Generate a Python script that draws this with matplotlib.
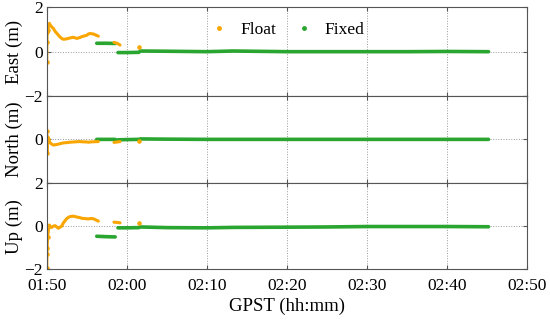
import numpy as np
import matplotlib
matplotlib.use("Agg")
import matplotlib.pyplot as plt
from matplotlib.lines import Line2D

# time in minutes after 01:50 GPST
tick_minutes = [0, 10, 20, 30, 40, 50, 60]
tick_labels = ["01:50", "02:00", "02:10", "02:20", "02:30", "02:40", "02:50"]

# Float solution (NaN separates the three pieces)
float_t = [0.0, 0.02, 0.05, 0.1, 0.2, 0.33, 0.41, 0.62, 0.83, 1.04, 1.45, 1.66, 1.87, 2.08,
           2.5, 2.7, 2.9, 3.33, 3.75, 4.16, 4.38, 5.0, 5.2, 5.41, 5.83, 6.45,
           np.nan, 8.4, 8.8, 9.16, np.nan, 11.55]
east_float = [-0.45, 0.45, 0.9, 1.0, 1.1, 1.28, 1.22, 1.12, 1.05, 0.92, 0.75, 0.66, 0.6, 0.56,
              0.58, 0.6, 0.62, 0.65, 0.6, 0.64, 0.68, 0.74, 0.8, 0.82, 0.8, 0.7,
              np.nan, 0.42, 0.38, 0.3, np.nan, 0.2]
north_float = [0.38, -0.65, 0.1, 0.0, -0.05, -0.1, -0.15, -0.22, -0.26, -0.25, -0.22, -0.2, -0.18, -0.16,
               -0.15, -0.14, -0.13, -0.12, -0.11, -0.1, -0.11, -0.12, -0.13, -0.12, -0.11, -0.1,
               np.nan, -0.14, -0.12, -0.1, np.nan, -0.07]
up_float = [-1.95, -1.3, -1.0, -0.5, -0.23, 0.05, -0.02, -0.06, 0.0, 0.02, -0.1, -0.05, 0.0, 0.15,
            0.35, 0.4, 0.44, 0.46, 0.42, 0.39, 0.36, 0.34, 0.33, 0.35, 0.34, 0.23,
            np.nan, 0.18, 0.17, 0.15, np.nan, 0.16]

# Fixed solution
fixed_t = [6.25, 7.5, 8.55, np.nan, 8.9, 10.0, 11.5, 11.7, 15.0, 20.0, 23.3, 30.0, 35.0,
           40.0, 45.0, 50.0, 55.2]
east_fixed = [0.38, 0.38, 0.37, np.nan, -0.04, -0.04, -0.03, 0.03, 0.02, 0.0, 0.03, 0.0, 0.0,
              0.0, 0.0, 0.01, 0.0]
north_fixed = [0.0, 0.0, 0.0, np.nan, -0.02, -0.01, 0.0, 0.02, 0.01, 0.0, 0.0, 0.0, 0.0,
               0.0, 0.0, 0.0, 0.0]
up_fixed = [-0.47, -0.49, -0.5, np.nan, -0.08, -0.08, -0.07, -0.04, -0.07, -0.08, -0.06, -0.05, -0.04,
            -0.02, -0.02, -0.02, -0.03]

float_color = "#F9A602"
fixed_color = "#2AA530"

plt.rcParams["font.family"] = ["Liberation Serif", "DejaVu Serif"]
plt.rcParams["font.size"] = 12.5

fig = plt.figure(figsize=(5.5, 3.23), dpi=100)
left, width = 0.085, 0.873
bounds = [(0.703, 0.274), (0.434, 0.269), (0.166, 0.268)]
names = ["East (m)", "North (m)", "Up (m)"]
floats = [east_float, north_float, up_float]
fixeds = [east_fixed, north_fixed, up_fixed]
ylabels = [["\u22122", "0", "2"], ["", "0", ""], ["\u22122", "0", "2"]]

axes = []
for i, (b, h) in enumerate(bounds):
    ax = fig.add_axes([left, b, width, h])
    axes.append(ax)
    ax.plot(fixed_t, fixeds[i], color=fixed_color, lw=2.6, solid_capstyle="round")
    ax.plot(float_t, floats[i], color=float_color, lw=2.2, solid_capstyle="round",
            marker=".", ms=4.5, markevery=[0, 1, 2, 3, 31])
    ax.set_xlim(0, 60)
    ax.set_ylim(-2, 2)
    ax.set_xticks(tick_minutes)
    ax.set_yticks([-2, 0, 2])
    ax.set_yticklabels(ylabels[i])
    ax.grid(True, ls=":", color="#999999", lw=0.7)
    ax.tick_params(direction="in", top=True, right=True, length=3, color="#555555",
                   labelsize=12.5, pad=3)
    for s in ax.spines.values():
        s.set_color("#555555")
        s.set_linewidth(0.8)
    ax.set_ylabel(names[i], fontsize=13.5)
    if i < 2:
        ax.set_xticklabels([])
    else:
        ax.tick_params(axis="x", pad=6)
        ax.set_xticklabels(tick_labels)
        ax.set_xlabel("GPST (hh:mm)", fontsize=13.5, labelpad=3)

for ax in axes:
    ax.yaxis.set_label_coords(-0.05, 0.5)

handles = [Line2D([], [], ls="none", marker=".", ms=5, color=float_color),
           Line2D([], [], ls="none", marker=".", ms=5, color=fixed_color)]
axes[0].legend(handles, ["Float", "Fixed"], loc="upper center", bbox_to_anchor=(0.5, 1.01),
               ncol=2, frameon=False, fontsize=12.5, handlelength=1.2, columnspacing=1.0,
               handletextpad=0.6)

fig.savefig("out.png", dpi=100)
